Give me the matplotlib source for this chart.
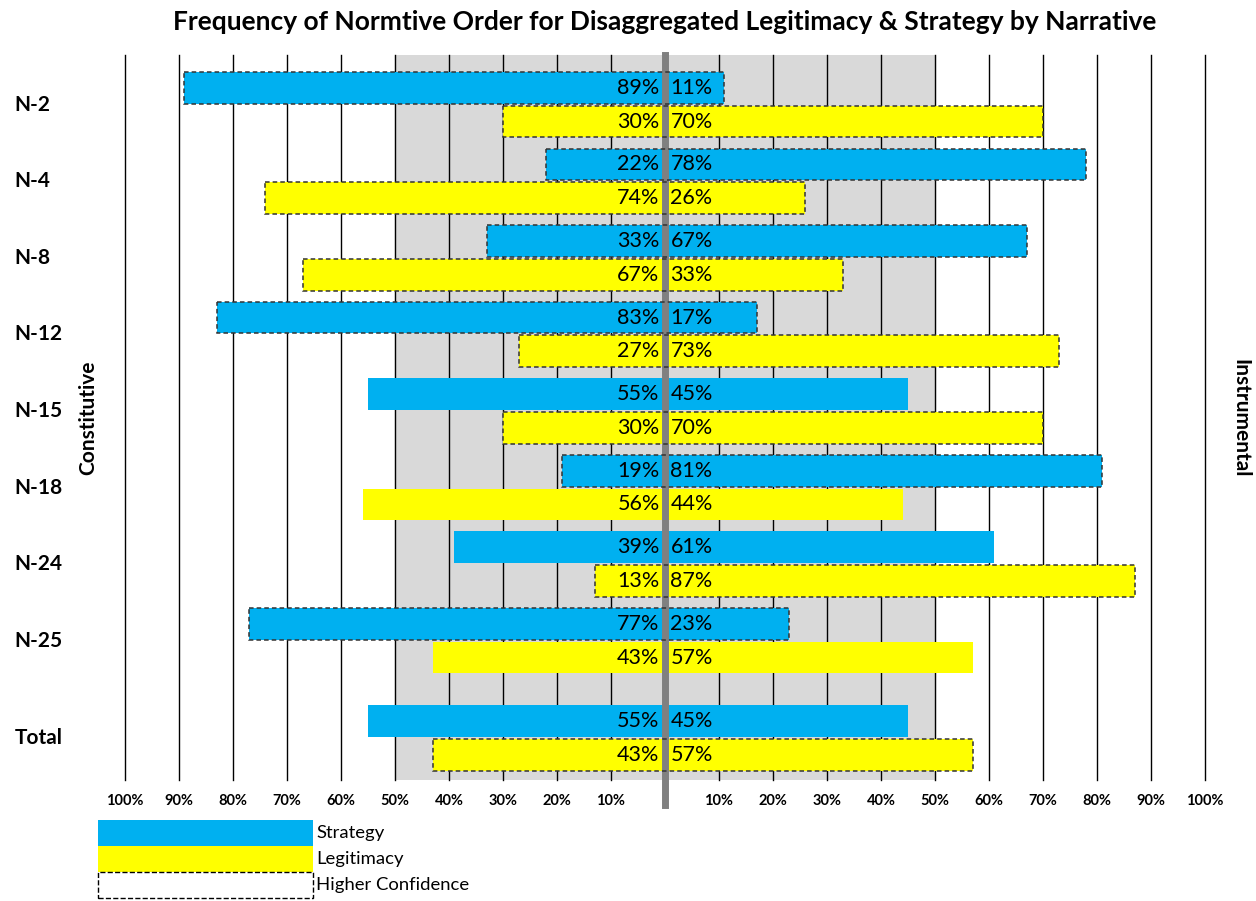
import matplotlib.pyplot as plt
from matplotlib.patches import Rectangle

plt.rcParams['font.family'] = ['Lato', 'DejaVu Sans']

narratives = ['N-2', 'N-4', 'N-8', 'N-12', 'N-15', 'N-18', 'N-24', 'N-25', 'Total']
strategy_const = [89, 22, 33, 83, 55, 19, 39, 77, 55]
strategy_instr = [11, 78, 67, 17, 45, 81, 61, 23, 45]
legit_const = [30, 74, 67, 27, 30, 56, 13, 43, 43]
legit_instr = [70, 26, 33, 73, 70, 44, 87, 57, 57]
strategy_conf = [True, True, True, True, False, True, False, True, False]
legit_conf = [True, True, True, True, True, False, True, False, True]
tick_vals = list(range(-100, 101, 10))
tick_labels = [f'{abs(v)}%' if v != 0 else '' for v in tick_vals]

BLUE = '#00B0F0'
YELLOW = '#FFFF00'

fig = plt.figure(figsize=(12.56, 9.01), dpi=100)
ax = fig.add_axes([125 / 1256, 1 - 780 / 901, 1080 / 1256, 725 / 901])

ypos = [0, 1, 2, 3, 4, 5, 6, 7, 8.27]
h = 0.415
off = 0.22

ax.axvspan(-50, 50, color='#D9D9D9', zorder=0)
for v in tick_vals:
    if v != 0:
        ax.axvline(v, color='black', lw=1, zorder=1, clip_on=False)


def draw(y, left, right, color, conf):
    ax.barh(y, left + right, left=-left, height=h, color=color, zorder=2)
    if conf:
        ax.barh(y, left + right, left=-left, height=h, fill=False,
                edgecolor='#333333', linestyle=(0, (3, 2)), lw=1.1, zorder=4)
    ax.text(-1, y, f'{left}%', ha='right', va='center', fontsize=15.5, zorder=5)
    ax.text(1, y, f'{right}%', ha='left', va='center', fontsize=15.5, zorder=5)


for i, name in enumerate(narratives):
    y = ypos[i]
    draw(y - off, strategy_const[i], strategy_instr[i], BLUE, strategy_conf[i])
    draw(y + off, legit_const[i], legit_instr[i], YELLOW, legit_conf[i])
    ax.text(-0.102, y, name, transform=ax.get_yaxis_transform(), ha='left',
            va='center', fontsize=15, fontweight='bold')

ax.plot([0, 0], [-0.65, 9.15], color='#808080', lw=5, zorder=3, clip_on=False)

ax.set_xlim(-100, 100)
ax.set_ylim(8.82, -0.65)
ax.set_xticks(tick_vals)
ax.set_xticklabels(tick_labels, fontsize=10.5, fontweight='bold')
ax.tick_params(axis='x', length=0, pad=10)
ax.set_yticks([])
for s in ax.spines.values():
    s.set_visible(False)

fig.text(665 / 1256, 1 - 22 / 901, 'Frequency of Normtive Order for Disaggregated Legitimacy & Strategy by Narrative',
         ha='center', va='center', fontsize=19, fontweight='bold')
fig.text(88 / 1256, 1 - 418 / 901, 'Constitutive', rotation=90, ha='center', va='center',
         fontsize=15, fontweight='bold')
fig.text(1240 / 1256, 1 - 418 / 901, 'Instrumental', rotation=-90, ha='center', va='center',
         fontsize=15, fontweight='bold')

# legend boxes
leg = [(BLUE, 'Strategy', None), (YELLOW, 'Legitimacy', None), ('white', 'Higher Confidence', '--')]
for k, (col, lab, ls) in enumerate(leg):
    y0 = 1 - (820 + 26 * (k + 1)) / 901
    r = Rectangle((98 / 1256, y0), 215 / 1256, 26 / 901, transform=fig.transFigure,
                  facecolor=col, edgecolor='black' if ls else 'none',
                  linestyle=ls if ls else '-', lw=1)
    fig.patches.append(r)
    fig.text(316 / 1256, y0 + 13 / 901, lab, ha='left', va='center', fontsize=13.3)

fig.savefig('out.png', dpi=100)
